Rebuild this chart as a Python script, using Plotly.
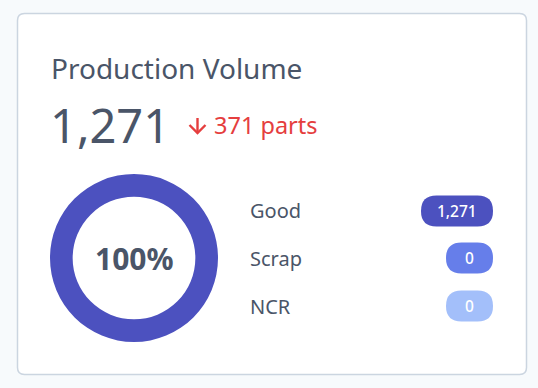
import plotly.graph_objects as go

W, H = 538, 388

title = "Production Volume"
total_value = "1,271"
delta_text = "371 parts"
categories = ["Good", "Scrap", "NCR"]
values = [1271, 0, 0]
value_labels = ["1,271", "0", "0"]
center_label = "100%"

colors = ["#4c51bf", "#667eea", "#a3bffa"]
text_color = "#4a5568"
red = "#e53e3e"
FONT = "Noto Sans"


def px(x):
    return x / W


def py(y):
    return 1 - y / H


def P(x, y):
    return f"{px(x):.5f},{py(y):.5f}"


def rounded_rect(x0, y0, x1, y1, r):
    return (f"M {P(x0 + r, y0)} L {P(x1 - r, y0)} Q {P(x1, y0)} {P(x1, y0 + r)} "
            f"L {P(x1, y1 - r)} Q {P(x1, y1)} {P(x1 - r, y1)} "
            f"L {P(x0 + r, y1)} Q {P(x0, y1)} {P(x0, y1 - r)} "
            f"L {P(x0, y0 + r)} Q {P(x0, y0)} {P(x0 + r, y0)} Z")


fig = go.Figure()

# donut
cx, cy, R = 134, 258, 84
fig.add_trace(go.Pie(
    labels=categories, values=values, hole=0.73, sort=False,
    direction="clockwise", rotation=0,
    marker=dict(colors=colors, line=dict(width=0)),
    textinfo="none", showlegend=False, hoverinfo="label+value",
    domain=dict(x=[px(cx - R), px(cx + R)], y=[py(cy + R), py(cy - R)]),
))

shapes = []
# card
shapes.append(dict(type="path", xref="paper", yref="paper",
                   path=rounded_rect(17.5, 13.5, 526.5, 374.5, 7),
                   fillcolor="white", line=dict(color="#cbd5e0", width=1.5),
                   layer="below"))
# down-arrow icon
shapes.append(dict(type="path", xref="paper", yref="paper",
                   path=f"M {P(197.5, 118)} L {P(197.5, 132.5)}",
                   line=dict(color=red, width=2.4)))
shapes.append(dict(type="path", xref="paper", yref="paper",
                   path=f"M {P(189.5, 125)} L {P(197.5, 133)} L {P(205.5, 125)}",
                   line=dict(color=red, width=2.4)))

annotations = []
annotations.append(dict(x=px(49), y=py(68), xref="paper", yref="paper",
                        text=title, showarrow=False, xanchor="left", yanchor="middle",
                        font=dict(family=FONT, size=28, color=text_color)))
annotations.append(dict(x=px(48), y=py(125), xref="paper", yref="paper",
                        text=total_value, showarrow=False, xanchor="left", yanchor="middle",
                        font=dict(family=FONT, size=47, color=text_color)))
annotations.append(dict(x=px(212), y=py(125), xref="paper", yref="paper",
                        text=delta_text, showarrow=False, xanchor="left", yanchor="middle",
                        font=dict(family=FONT, size=23.5, color=red)))
annotations.append(dict(x=px(cx), y=py(cy), xref="paper", yref="paper",
                        text=f"<b>{center_label}</b>", showarrow=False,
                        xanchor="center", yanchor="middle",
                        font=dict(family=FONT, size=30, color=text_color)))

row_y = [211, 258, 306]
pill_right = 493
pill_h = 31
for cat, lab, col, yy in zip(categories, value_labels, colors, row_y):
    annotations.append(dict(x=px(248), y=py(yy), xref="paper", yref="paper",
                            text=cat, showarrow=False, xanchor="left", yanchor="middle",
                            font=dict(family=FONT, size=20, color=text_color)))
    tw = sum(3.6 if ch == "," else 8.6 for ch in lab)
    pw = max(47, tw + 34)
    x0 = pill_right - pw
    shapes.append(dict(type="path", xref="paper", yref="paper",
                       path=rounded_rect(x0, yy - pill_h / 2, pill_right, yy + pill_h / 2, pill_h / 2),
                       fillcolor=col, line=dict(width=0)))
    annotations.append(dict(x=px((x0 + pill_right) / 2), y=py(yy), xref="paper", yref="paper",
                            text=lab, showarrow=False, xanchor="center", yanchor="middle",
                            font=dict(family=FONT, size=15.5, color="white", weight=500)))

fig.update_layout(
    width=W, height=H, margin=dict(l=0, r=0, t=0, b=0),
    paper_bgcolor="#f7fafc", plot_bgcolor="#f7fafc",
    shapes=shapes, annotations=annotations,
    xaxis=dict(visible=False), yaxis=dict(visible=False),
)

fig.write_html("out.html", config={"displayModeBar": False})
